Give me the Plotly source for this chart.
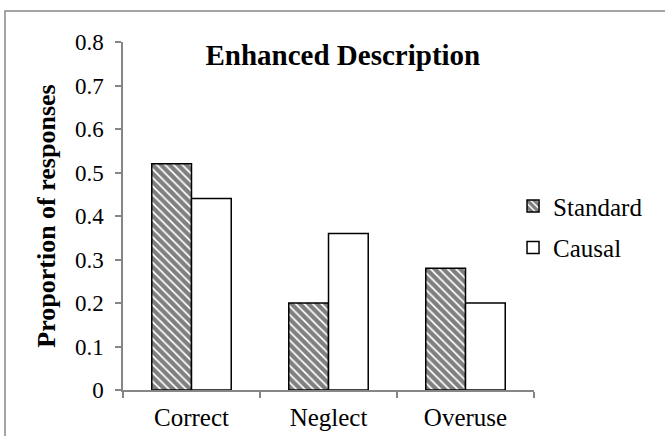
import plotly.graph_objects as go

categories = ["Correct", "Neglect", "Overuse"]
standard = [0.52, 0.20, 0.28]
causal = [0.44, 0.36, 0.20]
y_ticks = [0, 0.1, 0.2, 0.3, 0.4, 0.5, 0.6, 0.7, 0.8]

FONT = "Liberation Serif"
AX = "#868686"

fig = go.Figure()
fig.add_trace(go.Bar(
    x=categories, y=standard, name="Standard", legendgroup="a",
    marker=dict(color="white", line=dict(color="black", width=1.5),
                pattern=dict(shape="\\", fgcolor="black", bgcolor="white",
                             size=6, solidity=0.7)),
))
fig.add_trace(go.Bar(
    x=categories, y=causal, name="Causal", legendgroup="b",
    marker=dict(color="white", line=dict(color="black", width=1.5)),
))

fig.update_layout(
    width=665, height=436, autosize=False,
    margin=dict(l=123, r=131, t=42, b=46, autoexpand=False),
    paper_bgcolor="white", plot_bgcolor="white",
    font=dict(family=FONT, size=24, color="black"),
    barmode="group", bargap=0.42, bargroupgap=0,
    title=dict(text="<b>Enhanced Description</b>", font=dict(family=FONT, size=29, color="black"),
               x=0.535, xanchor="center", xref="paper", y=0.874, yanchor="middle", yref="container"),
    legend=dict(x=0.949, y=0.594, xanchor="left", yanchor="top",
                font=dict(family=FONT, size=25, color="black"),
                bgcolor="rgba(0,0,0,0)", tracegroupgap=6, itemwidth=30,
                traceorder="grouped"),
    showlegend=True,
)
fig.update_xaxes(
    type="category", showline=True, linecolor=AX, linewidth=1.5,
    ticks="outside", tickson="boundaries", ticklen=6, tickcolor=AX, tickwidth=1.5,
    tickfont=dict(family=FONT, size=25, color="black"), showgrid=False, zeroline=False,
    automargin=False, ticklabelstandoff=4,
)
fig.update_yaxes(
    range=[0, 0.8], tickvals=y_ticks, showline=True, linecolor=AX, linewidth=1.5,
    ticks="outside", ticklen=6, tickcolor=AX, tickwidth=1.5,
    tickfont=dict(family=FONT, size=23, color="black"), showgrid=False, zeroline=False,
    automargin=False, ticklabelstandoff=7,
    title=dict(text="<b>Proportion of responses</b>", font=dict(family=FONT, size=26, color="black"), standoff=12),
)
# outer chart border
fig.add_shape(type="rect", xref="paper", yref="paper",
              x0=(5 - 123) / 411, x1=(700 - 123) / 411,
              y0=(390 - 470) / 348, y1=(390 - 11) / 348,
              line=dict(color=AX, width=1.5), fillcolor="rgba(0,0,0,0)", layer="below")

fig.write_html("out.html", config={"displayModeBar": False},
               post_script="document.body.style.margin='0';document.body.style.overflow='hidden';")
